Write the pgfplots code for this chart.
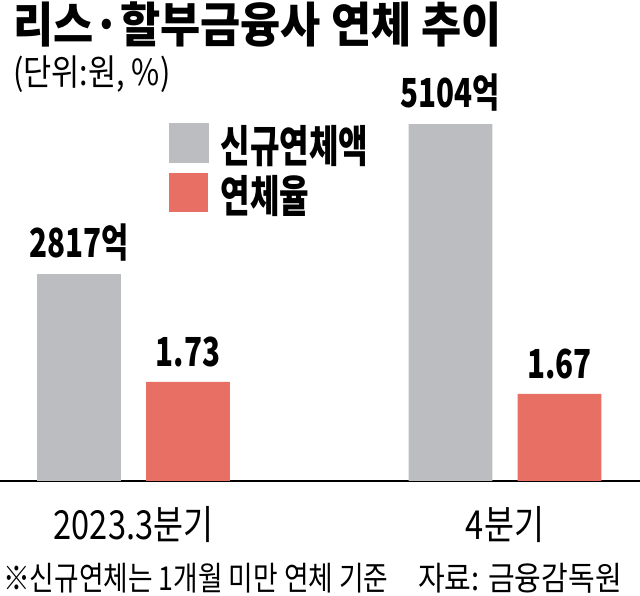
\documentclass[border=0pt]{standalone}
\usepackage{graphicx}
\usepackage{fontspec}
\usepackage{pgfplots}
\pgfplotsset{compat=1.18}
\newfontfamily\kr{Noto Sans CJK KR}
\definecolor{graybar}{RGB}{188,189,193}
\definecolor{redbar}{RGB}{232,111,99}
\newcommand{\fs}[1]{\fontsize{#1}{#1}\selectfont}
\begin{document}
\begin{tikzpicture}
\path[use as bounding box] (0pt,0pt) rectangle (640pt,596pt);
% gray bars: new overdue amount (억원)
\begin{axis}[
  at={(0pt,115pt)}, anchor=south west,
  scale only axis, width=640pt, height=481pt,
  xmin=-0.3594, xmax=1.3634,
  ymin=-338, ymax=6995,
  y coord trafo/.code={\pgfmathparse{#1+338}},
  y coord inv trafo/.code={\pgfmathparse{#1-338}},
  axis x line*=bottom, axis y line=none,
  axis line style={black, line width=1.3pt},
  xtick={0,1}, xticklabels={2023.3분기,4분기},
  major tick length=0pt,
  xticklabel style={font=\kr\fs{40}, anchor=base, yshift=-59pt, xscale=0.815},
  ybar, bar width=0.226,
  point meta=explicit symbolic,
  nodes near coords,
  every node near coord/.append style={font=\kr\bfseries\fs{40}, anchor=base, yshift=17pt, xscale=0.74, inner sep=0pt},
]
\addplot[fill=graybar, draw=none, bar shift=-0.1467] coordinates {(0,2817) [2817억] (1,5104) [5104억]};
\end{axis}
% red bars: overdue rate (%)
\begin{axis}[
  at={(0pt,115pt)}, anchor=south west,
  scale only axis, width=640pt, height=481pt,
  xmin=-0.3594, xmax=1.3634,
  ymin=1.235, ymax=3.64,
  axis lines=none,
  ybar, bar width=0.226,
  point meta=explicit symbolic,
  nodes near coords,
  every node near coord/.append style={font=\kr\bfseries\fs{40}, anchor=base, yshift=15.5pt, xscale=0.74, inner sep=0pt},
  legend style={at={(0.264,0.744)}, anchor=north west, draw=none, fill=none,
    inner sep=0pt, row sep=9pt, column sep=12pt,
    nodes={inner sep=0pt}, font=\kr\bfseries\fs{44}},
  legend cell align=left,
]
\addlegendimage{legend image code/.code={\fill[graybar] (0pt,-17.5pt) rectangle (39pt,21.5pt);}}
\addlegendentry{\scalebox{0.73}[1]{신규연체액}}
\addplot[fill=redbar, draw=none, bar shift=0.1467,
  legend image code/.code={\fill[redbar] (0pt,-17.5pt) rectangle (39pt,21.5pt);}]
  coordinates {(0,1.73) [1.73] (1,1.67) [1.67]};
\addlegendentry{\scalebox{0.73}[1]{연체율}}
\end{axis}
\node[anchor=base west, inner sep=0pt] at (13pt,553pt) {\kr\bfseries\fs{48}\scalebox{0.91}[1]{리스·할부금융사 연체 추이}};
\node[anchor=base west, inner sep=0pt] at (13pt,510pt) {\kr\fs{36}\scalebox{0.85}[1]{(단위:원, \%)}};
\node[anchor=base west, inner sep=0pt] at (3pt,5pt) {\kr\fs{33}\scalebox{0.81}[1]{※신규연체는 1개월 미만 연체 기준}};
\node[anchor=base east, inner sep=0pt] at (622pt,5pt) {\kr\fs{33}\scalebox{0.88}[1]{자료: 금융감독원}};
\end{tikzpicture}
\end{document}
